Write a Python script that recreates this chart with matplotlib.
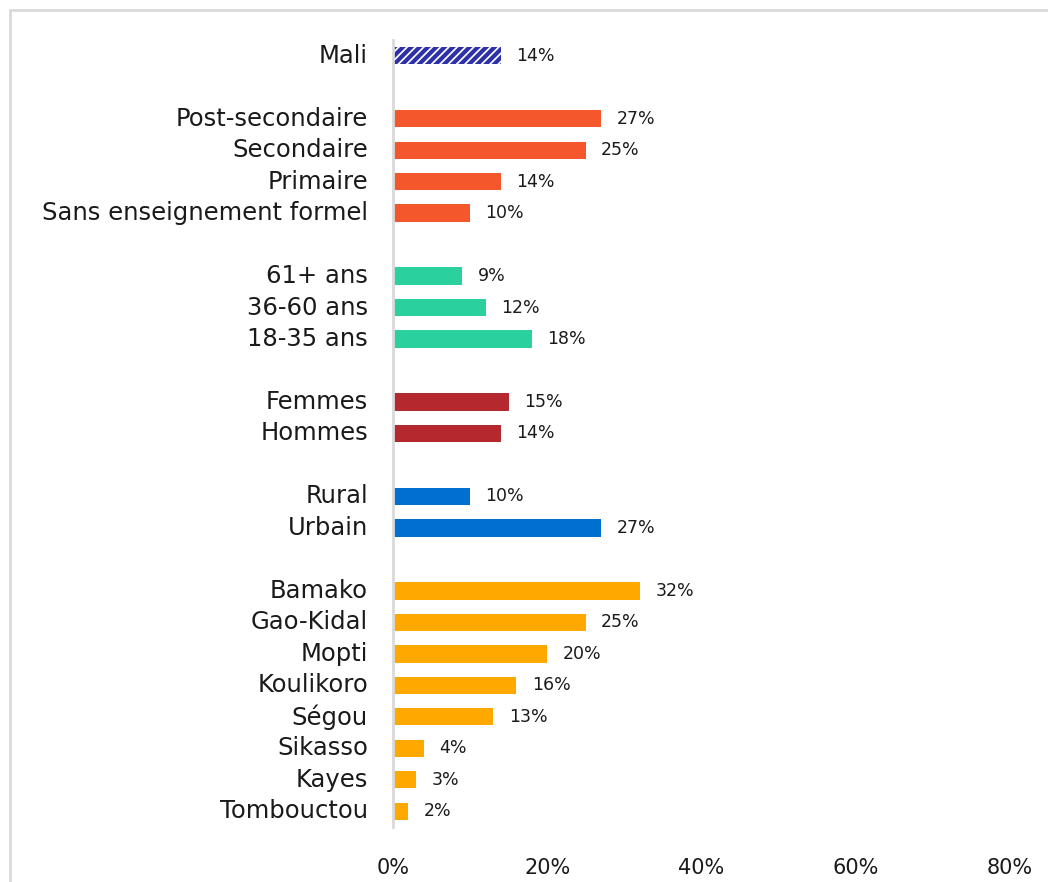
import matplotlib.pyplot as plt
import matplotlib.patches as mpatches
from matplotlib.ticker import FuncFormatter

plt.rcParams['font.family'] = ['DejaVu Sans']
plt.rcParams['hatch.linewidth'] = 3.0

# groups of categories, top to bottom
labels = ["Mali",
          "Post-secondaire", "Secondaire", "Primaire", "Sans enseignement formel",
          "61+ ans", "36-60 ans", "18-35 ans",
          "Femmes", "Hommes",
          "Rural", "Urbain",
          "Bamako", "Gao-Kidal", "Mopti", "Koulikoro", "Ségou", "Sikasso", "Kayes", "Tombouctou"]
values = [14,
          27, 25, 14, 10,
          9, 12, 18,
          15, 14,
          10, 27,
          32, 25, 20, 16, 13, 4, 3, 2]
group_sizes = [1, 4, 3, 2, 2, 8]
group_colors = ["#2E30A8", "#F4572C", "#2AD19E", "#B5282E", "#0070D0", "#FFA800"]
xticks = [0, 20, 40, 60, 80]

# y positions with a blank row between groups
positions, colors, hatched = [], [], []
row = 0
for g, n in enumerate(group_sizes):
    for _ in range(n):
        positions.append(row)
        colors.append(group_colors[g])
        hatched.append(g == 0)
        row += 1
    row += 1

fig = plt.figure(figsize=(10.48, 8.82), dpi=100)
ax = fig.add_axes([393 / 1048, 1 - 827 / 882, (1010 - 393) / 1048, (827 - 40) / 882])

for y, v, c, h in zip(positions, values, colors, hatched):
    if h:
        ax.barh(y, v, height=0.55, color="white", edgecolor=c, hatch="////", linewidth=0)
    else:
        ax.barh(y, v, height=0.55, color=c)
    ax.text(v + 2.0, y, f"{v}%", va="center", ha="left", fontsize=12.5, color="#1a1a1a")

ax.set_ylim(positions[-1] + 0.5, -0.5)
ax.set_xlim(0, 80)
ax.set_yticks(positions)
ax.set_yticklabels(labels, fontsize=17.5, color="#1a1a1a", va="center")
ax.set_xticks(xticks)
ax.xaxis.set_major_formatter(FuncFormatter(lambda x, _: f"{x:.0f}%"))
ax.tick_params(axis="x", labelsize=15, length=0, pad=22, colors="#1a1a1a")
ax.tick_params(axis="y", length=0, pad=18)

for s in ["top", "right", "bottom"]:
    ax.spines[s].set_visible(False)
ax.spines["left"].set_color("#d9d9d9")
ax.spines["left"].set_linewidth(2)

# light frame around the chart area
frame = mpatches.Rectangle((10 / 1048, -0.1), 1.2, 1 - 10 / 882 + 0.1, transform=fig.transFigure,
                           fill=False, edgecolor="#d9d9d9", linewidth=2)
fig.patches.append(frame)

fig.savefig("out.png", dpi=100)
